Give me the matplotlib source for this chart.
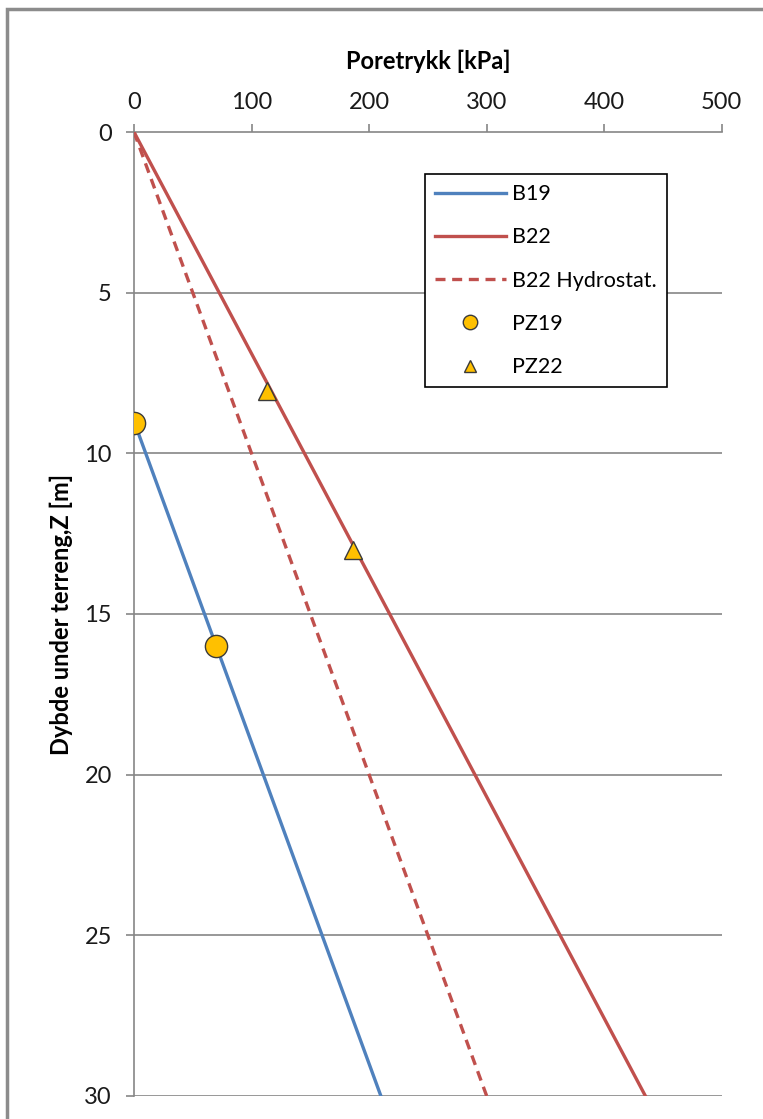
import matplotlib.pyplot as plt
from matplotlib.patches import Rectangle

# data
b19_depth = [9, 30]
b19_press = [0, 210]
b22_depth = [0, 30]
b22_press = [0, 435]
hyd_depth = [0, 30]
hyd_press = [0, 300]
pz19_press = [0, 70]
pz19_depth = [9.05, 16.0]
pz22_press = [113, 186]
pz22_depth = [8.05, 13.0]
x_ticks = [0, 100, 200, 300, 400, 500]
y_ticks = [0, 5, 10, 15, 20, 25, 30]

plt.rcParams['font.family'] = ['Lato', 'DejaVu Sans']

fig = plt.figure(figsize=(7.63, 11.19), dpi=100)
fig.patches.append(Rectangle((0.009, -0.01), 1.1, 1.0018, transform=fig.transFigure,
                             fill=False, edgecolor='#8c8c8c', linewidth=2.5))
ax = fig.add_axes([0.1756, 0.0206, 0.7704, 0.8614])

grid_c = '#868686'
for y in y_ticks[1:]:
    ax.axhline(y, color=grid_c, linewidth=1.2, zorder=1)

ax.plot(b19_press, b19_depth, color='#4F81BD', linewidth=2.4, label='B19', zorder=3)
ax.plot(b22_press, b22_depth, color='#C0504D', linewidth=2.4, label='B22', zorder=3)
ax.plot(hyd_press, hyd_depth, color='#C0504D', linewidth=2.4, linestyle=(0, (3, 2)),
        label='B22 Hydrostat.', zorder=3)
ax.plot(pz19_press, pz19_depth, linestyle='none', marker='o', markersize=16,
        markerfacecolor='#FFC000', markeredgecolor='#3a3a3a', markeredgewidth=1.0,
        label='PZ19', zorder=4)
ax.plot(pz22_press, pz22_depth, linestyle='none', marker='^', markersize=13,
        markerfacecolor='#FFC000', markeredgecolor='#3a3a3a', markeredgewidth=1.0,
        label='PZ22', zorder=4)

ax.set_xlim(0, 500)
ax.set_ylim(30, 0)
ax.xaxis.tick_top()
ax.xaxis.set_label_position('top')
ax.set_xticks(x_ticks)
ax.set_yticks(y_ticks)
ax.tick_params(axis='both', labelsize=17, color=grid_c, length=6, width=1.2,
               labelcolor='#1a1a1a')
ax.tick_params(axis='x', pad=8)
ax.tick_params(axis='y', pad=10)
ax.set_xlabel('Poretrykk [kPa]', fontsize=17, fontweight='bold', labelpad=16)
ax.set_ylabel('Dybde under terreng,Z [m]', fontsize=17, fontweight='bold', labelpad=8)

for s in ['right', 'bottom']:
    ax.spines[s].set_visible(False)
for s in ['left', 'top']:
    ax.spines[s].set_color(grid_c)
    ax.spines[s].set_linewidth(1.2)

leg = ax.legend(loc='upper left', bbox_to_anchor=(0.495, 0.956), fontsize=15.5,
                frameon=True, fancybox=False, edgecolor='black', framealpha=1,
                handlelength=3.3, labelspacing=1.08, borderpad=0.45,
                borderaxespad=0, handletextpad=0.3, markerscale=0.65)
leg.get_frame().set_linewidth(1.2)

fig.savefig('out.png', dpi=100)
